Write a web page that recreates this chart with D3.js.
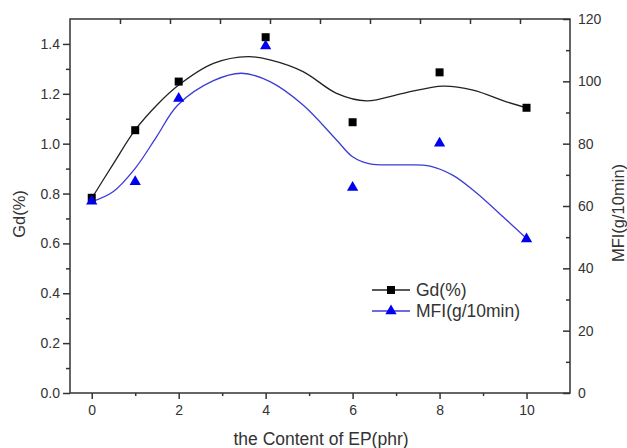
<!DOCTYPE html>
<html>
<head>
<meta charset="utf-8">
<script src="https://cdn.jsdelivr.net/npm/d3@7"></script>
<style>
  body { margin: 0; background: #fff; }
  text { font-family: "Liberation Sans", Arial, sans-serif; fill: #333; }
</style>
</head>
<body>
<div id="chart"></div>
<script>
// Data
const epContent = [0, 1, 2, 4, 6, 8, 10];
const gdValues = [0.783, 1.054, 1.249, 1.427, 1.086, 1.286, 1.144];
const mfiValues = [61.5, 67.8, 94.5, 111.3, 65.9, 80.1, 49.4];

// fitted curves
const gdFitX = [0, 0.5, 1, 1.5, 2, 2.8, 3.6, 4.1, 4.86, 5.63, 6.32, 7.16, 8.08, 8.77, 9.54, 10];
const gdFitY = [0.781, 0.92, 1.055, 1.155, 1.235, 1.322, 1.349, 1.336, 1.289, 1.202, 1.172, 1.202, 1.231, 1.215, 1.168, 1.144];
const mfiFitX = [0, 0.49, 1, 1.49, 1.98, 2.8, 3.45, 4.1, 4.86, 5.63, 6.0, 6.4, 7.16, 7.78, 8.3, 8.77, 9.54, 10];
const mfiFitY = [61.4, 64.6, 72.1, 82.2, 92.4, 100.2, 102.6, 99.9, 92.4, 81.2, 75.8, 73.5, 73.2, 72.8, 69.9, 65.1, 55.5, 49.6];

const xTicks = [0, 2, 4, 6, 8, 10];
const gdTicks = [0.0, 0.2, 0.4, 0.6, 0.8, 1.0, 1.2, 1.4];
const mfiTicks = [0, 20, 40, 60, 80, 100, 120];

function drawChart() {
  const W = 627, H = 448;
  const left = 70, right = 570, top = 19, bottom = 393;

  const svg = d3.select("#chart").append("svg")
    .attr("width", W)
    .attr("height", H);

  const x = d3.scaleLinear().domain([-0.5, 11]).range([left, right]);
  const xTop = d3.scaleLinear().domain([0, 10]).range([left, right]);
  const yL = d3.scaleLinear().domain([0, 1.5]).range([bottom, top]);
  const yR = d3.scaleLinear().domain([0, 120]).range([bottom, top]);

  const axisColor = "#333";

  // frame
  svg.append("rect")
    .attr("x", left).attr("y", top)
    .attr("width", right - left).attr("height", bottom - top)
    .attr("fill", "none").attr("stroke", axisColor).attr("stroke-width", 1.5);

  // bottom axis
  svg.append("g").attr("transform", `translate(0,${bottom})`)
    .call(d3.axisBottom(x).tickValues(xTicks).tickSize(6).tickPadding(6).tickFormat(d3.format("d")));
  svg.append("g").attr("transform", `translate(0,${bottom})`)
    .call(d3.axisBottom(x).tickValues([1, 3, 5, 7, 9]).tickSize(3).tickFormat(""));

  // top axis (inward ticks)
  svg.append("g").attr("transform", `translate(0,${top})`)
    .call(d3.axisBottom(xTop).tickValues(d3.range(1, 10)).tickSize(5).tickFormat(""));

  // left axis
  svg.append("g").attr("transform", `translate(${left},0)`)
    .call(d3.axisLeft(yL).tickValues(gdTicks).tickSize(7).tickPadding(3).tickFormat(d3.format(".1f")));
  svg.append("g").attr("transform", `translate(${left},0)`)
    .call(d3.axisLeft(yL).tickValues([0.1, 0.3, 0.5, 0.7, 0.9, 1.1, 1.3]).tickSize(4).tickFormat(""));

  // right axis (inward ticks, labels outside)
  const rAxis = svg.append("g").attr("transform", `translate(${right},0)`)
    .call(d3.axisLeft(yR).tickValues(mfiTicks).tickSize(7).tickFormat(d3.format("d")));
  rAxis.selectAll("text").attr("x", 8).attr("text-anchor", "start");
  svg.append("g").attr("transform", `translate(${right},0)`)
    .call(d3.axisLeft(yR).tickValues([10, 30, 50, 70, 90, 110]).tickSize(4).tickFormat(""));

  svg.selectAll(".domain").remove();
  svg.selectAll(".tick line").attr("stroke", axisColor).attr("stroke-width", 1.5);
  svg.selectAll(".tick text").attr("font-size", 14).attr("fill", "#333")
    .style("font-family", "Liberation Sans, Arial, sans-serif");

  // titles
  svg.append("text")
    .attr("transform", `translate(25,${(top + bottom) / 2 + 8}) rotate(-90)`)
    .attr("text-anchor", "middle")
    .attr("font-size", 16.5)
    .text("Gd(%)");

  svg.append("text")
    .attr("transform", `translate(624,${(top + bottom) / 2 + 7}) rotate(-90)`)
    .attr("text-anchor", "middle")
    .attr("font-size", 16.5)
    .text("MFI(g/10min)");

  svg.append("text")
    .attr("x", 321).attr("y", 445)
    .attr("text-anchor", "middle")
    .attr("font-size", 17.5)
    .text("the Content of EP(phr)");

  // fitted curves
  const gdLine = d3.line().x(d => x(d[0])).y(d => yL(d[1])).curve(d3.curveCatmullRom.alpha(0.5));
  const mfiLine = d3.line().x(d => x(d[0])).y(d => yR(d[1])).curve(d3.curveCatmullRom.alpha(0.5));

  svg.append("path")
    .datum(d3.zip(gdFitX, gdFitY))
    .attr("d", gdLine)
    .attr("fill", "none").attr("stroke", "#222").attr("stroke-width", 1.3);

  svg.append("path")
    .datum(d3.zip(mfiFitX, mfiFitY))
    .attr("d", mfiLine)
    .attr("fill", "none").attr("stroke", "#3b3bd6").attr("stroke-width", 1.3);

  // markers
  const sq = d3.symbol().type(d3.symbolSquare).size(64);
  const tri = d3.symbol().type(d3.symbolTriangle).size(55);

  svg.selectAll(".gd")
    .data(d3.zip(epContent, gdValues))
    .enter().append("path")
    .attr("class", "gd")
    .attr("d", sq)
    .attr("transform", d => `translate(${x(d[0])},${yL(d[1])})`)
    .attr("fill", "#000");

  svg.selectAll(".mfi")
    .data(d3.zip(epContent, mfiValues))
    .enter().append("path")
    .attr("class", "mfi")
    .attr("d", tri)
    .attr("transform", d => `translate(${x(d[0])},${yR(d[1])})`)
    .attr("fill", "#0000ee");

  // legend
  const legend = [
    { label: "Gd(%)", color: "#222", marker: sq, fill: "#000", y: 290 },
    { label: "MFI(g/10min)", color: "#3b3bd6", marker: tri, fill: "#0000ee", y: 311 }
  ];
  const lg = svg.selectAll(".legend").data(legend).enter().append("g")
    .attr("class", "legend")
    .attr("transform", d => `translate(0,${d.y})`);
  lg.append("line")
    .attr("x1", 372).attr("x2", 410)
    .attr("stroke", d => d.color).attr("stroke-width", 1.3);
  lg.append("path")
    .attr("d", d => d.marker())
    .attr("transform", "translate(391,0)")
    .attr("fill", d => d.fill);
  lg.append("text")
    .attr("x", 416).attr("dy", "0.35em")
    .attr("font-size", 17.5)
    .text(d => d.label);
}

document.addEventListener("DOMContentLoaded", drawChart);
</script>
</body>
</html>
